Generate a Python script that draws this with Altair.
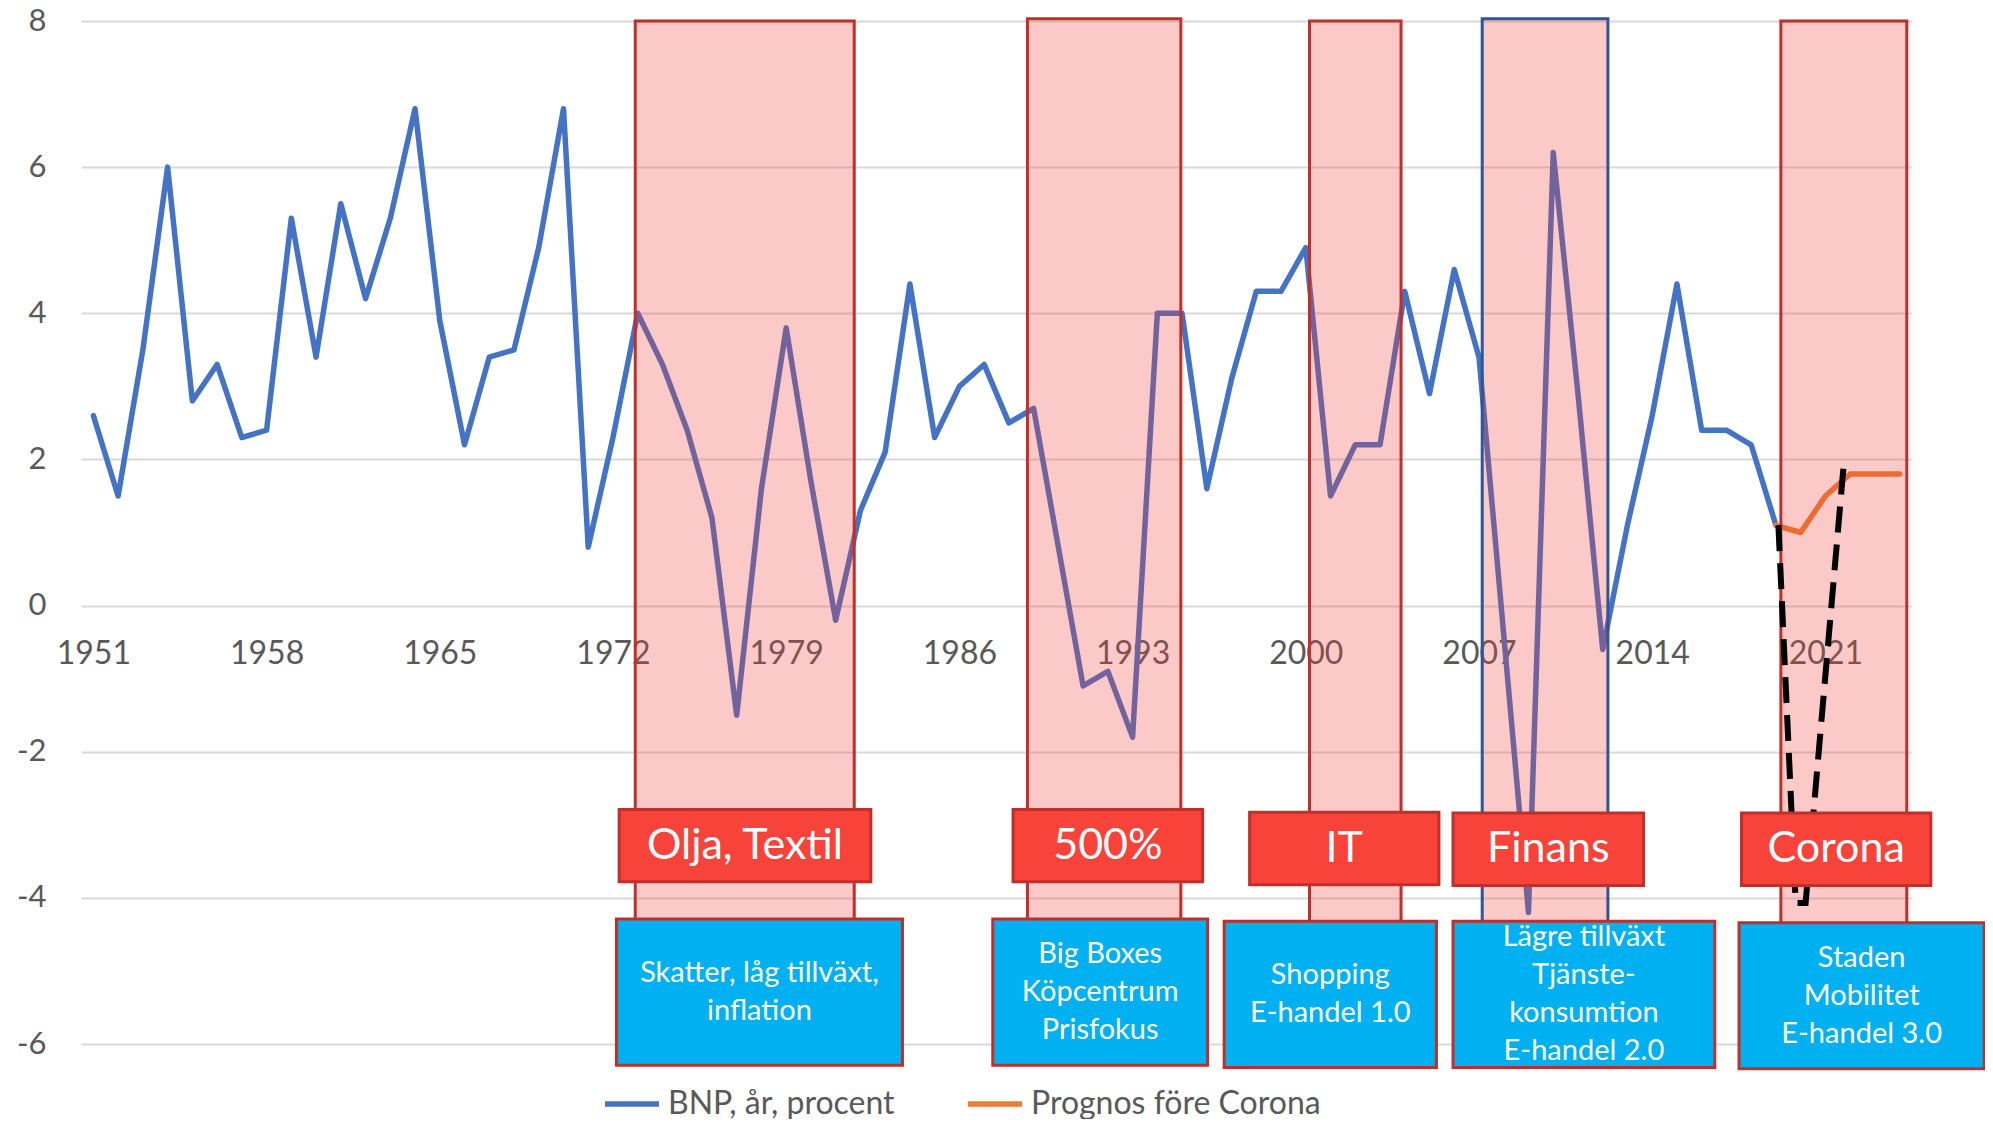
import altair as alt
import pandas as pd

# ---- data ----
years = list(range(1951, 2020))
bnp = [2.6, 1.5, 3.5, 6.0, 2.8, 3.3, 2.3, 2.4, 5.3, 3.4,
       5.5, 4.2, 5.3, 6.8, 3.9, 2.2, 3.4, 3.5, 4.9, 6.8,
       0.8, 2.3, 4.0, 3.3, 2.4, 1.2, -1.5, 1.6, 3.8, 1.7,
       -0.2, 1.3, 2.1, 4.4, 2.3, 3.0, 3.3, 2.5, 2.7, 0.8,
       -1.1, -0.9, -1.8, 4.0, 4.0, 1.6, 3.1, 4.3, 4.3, 4.9,
       1.5, 2.2, 2.2, 4.3, 2.9, 4.6, 3.4, -0.4, -4.2, 6.2,
       2.9, -0.6, 1.1, 2.6, 4.4, 2.4, 2.4, 2.2, 1.1]
prog_years = [2019, 2020, 2021, 2022, 2023, 2024]
prog = [1.1, 1.0, 1.5, 1.8, 1.8, 1.8]

series_names = ["BNP, år, procent", "Prognos före Corona"]
series_colors = ["#4472C4", "#ED7D31"]

x_ticks = [1951, 1958, 1965, 1972, 1979, 1986, 1993, 2000, 2007, 2014, 2021]
y_ticks = [-6, -4, -2, 0, 2, 4, 6, 8]

# Corona dip sketch (dashed)
dash_x = [2019.1, 2019.8, 2020.2, 2021.75]
dash_y = [1.1, -4.07, -4.07, 1.97]

# shaded crisis periods
shade_start = [1972.9, 1988.75, 2000.15, 2007.13, 2019.2]
shade_end = [1981.75, 1994.95, 2003.85, 2012.21, 2024.29]
shade_top = [8.0, 8.03, 8.0, 8.03, 8.0]
shade_bottom = [-4.4, -4.4, -4.4, -4.4, -4.4]
shade_border = ["#C0302A", "#C0302A", "#C0302A", "#2F5597", "#C0302A"]

# red label boxes
red_labels = ["Olja, Textil", "500%", "IT", "Finans", "Corona"]
red_x1 = [1972.25, 1988.17, 1997.73, 2005.95, 2017.61]
red_x2 = [1982.42, 1995.83, 2005.38, 2013.65, 2025.26]
red_y1 = [-2.79, -2.79, -2.83, -2.84, -2.84]
red_y2 = [-3.78, -3.78, -3.82, -3.83, -3.83]

# blue description boxes
blue_labels = ["Skatter, låg tillväxt,\ninflation",
               "Big Boxes\nKöpcentrum\nPrisfokus",
               "Shopping\nE-handel 1.0",
               "Lägre tillväxt\nTjänste-\nkonsumtion\nE-handel 2.0",
               "Staden\nMobilitet\nE-handel 3.0"]
blue_x1 = [1972.14, 1987.35, 1996.70, 2005.95, 2017.51]
blue_x2 = [1983.70, 1996.03, 2005.28, 2016.53, 2027.42]
blue_y1 = [-4.29, -4.29, -4.32, -4.32, -4.34]
blue_y2 = [-6.29, -6.29, -6.32, -6.32, -6.34]

# ---- layout ----
W, H = 1831, 1023
y_dom = [-6, 8]
px_per_unit = H / (y_dom[1] - y_dom[0])
zero_px = H * (y_dom[1] - 0) / (y_dom[1] - y_dom[0])
LINE_H = 38  # px, line height of box text

# ---- tables (all use fields year/value for shared axes) ----
lines_df = pd.concat([
    pd.DataFrame({"year": years, "value": bnp, "series": series_names[0]}),
    pd.DataFrame({"year": prog_years, "value": prog, "series": series_names[1]}),
])
dash_df = pd.DataFrame({"year": dash_x, "value": dash_y, "o": range(len(dash_x))})
shade_df = pd.DataFrame({"year": shade_start, "year2": shade_end, "value": shade_top,
                         "value2": shade_bottom, "border": shade_border})
red_df = pd.DataFrame({"label": red_labels, "year": red_x1, "year2": red_x2,
                       "value": red_y1, "value2": red_y2})
red_txt = pd.DataFrame({"label": red_labels,
                        "year": [(a + b) / 2 for a, b in zip(red_x1, red_x2)],
                        "value": [(a + b) / 2 for a, b in zip(red_y1, red_y2)]})
blue_df = pd.DataFrame({"label": blue_labels, "year": blue_x1, "year2": blue_x2,
                        "value": blue_y1, "value2": blue_y2})
blue_txt = pd.DataFrame({
    "label": blue_labels,
    "year": [(a + b) / 2 for a, b in zip(blue_x1, blue_x2)],
    "value": [(a + b) / 2 + (lab.count("\n")) / 2 * LINE_H / px_per_unit
              for a, b, lab in zip(blue_y1, blue_y2, blue_labels)],
})

FONT = "Lato"
xs = alt.Scale(domain=[1950.5, 2024.5], nice=False, zero=False)
ys = alt.Scale(domain=y_dom, nice=False, zero=False)

X = alt.X("year:Q", scale=xs, title=None,
          axis=alt.Axis(values=x_ticks, format="d", grid=False, domain=False, ticks=False,
                        labelPadding=33, offset=-(H - zero_px), labelOverlap=False,
                        labelFontSize=32, labelFont=FONT, labelColor="#595959"))
Y = alt.Y("value:Q", scale=ys, title=None,
          axis=alt.Axis(values=y_ticks, grid=True, gridColor="#D9D9D9", gridWidth=2,
                        domain=False, ticks=False, labelPadding=35, labelOverlap=False,
                        labelExpr="toString(datum.value)",
                        labelFontSize=31, labelFont=FONT, labelColor="#595959"))

lines = alt.Chart(lines_df).mark_line(strokeWidth=5.5, strokeJoin="round", strokeCap="round").encode(
    x=X, y=Y,
    color=alt.Color("series:N", scale=alt.Scale(domain=series_names, range=series_colors),
                    legend=alt.Legend(title=None, orient="none", legendX=521, legendY=1053,
                                      direction="horizontal", symbolType="stroke",
                                      symbolSize=2916, symbolStrokeWidth=5.5,
                                      labelFontSize=32, labelFont=FONT, labelColor="#595959",
                                      labelOffset=6, labelLimit=0, columnPadding=62, padding=0)),
    order="year:Q",
)

shades = alt.Chart(shade_df).mark_rect(fill="#F03C32", fillOpacity=0.27, strokeWidth=3).encode(
    x=X, x2="year2:Q", y=Y, y2="value2:Q",
    stroke=alt.Stroke("border:N", scale=None),
)

dashed = alt.Chart(dash_df).mark_line(strokeWidth=6, strokeDash=[26, 12], color="black").encode(
    x=X, y=Y, order="o:Q",
)

red_boxes = alt.Chart(red_df).mark_rect(fill="#F8433B", stroke="#C0302A", strokeWidth=3).encode(
    x=X, x2="year2:Q", y=Y, y2="value2:Q",
)
red_text = alt.Chart(red_txt).mark_text(font=FONT, fontSize=43, color="white",
                                        align="center", baseline="middle").encode(
    x=X, y=Y, text="label:N",
)
blue_boxes = alt.Chart(blue_df).mark_rect(fill="#00B0F0", stroke="#C0302A", strokeWidth=3).encode(
    x=X, x2="year2:Q", y=Y, y2="value2:Q",
)
blue_text = alt.Chart(blue_txt).mark_text(font=FONT, fontSize=29, color="white", lineBreak="\n",
                                          lineHeight=LINE_H, align="center",
                                          baseline="middle").encode(
    x=X, y=Y, text="label:N",
)

chart = alt.layer(lines, shades, dashed, red_boxes, red_text, blue_boxes, blue_text).properties(
    width=W, height=H,
    autosize=alt.AutoSizeParams(type="none"),
    padding={"left": 73, "top": 13, "right": 73, "bottom": 75},
).configure_view(stroke=None)

chart.save("out.html", embed_options={"renderer": "svg", "actions": False})
